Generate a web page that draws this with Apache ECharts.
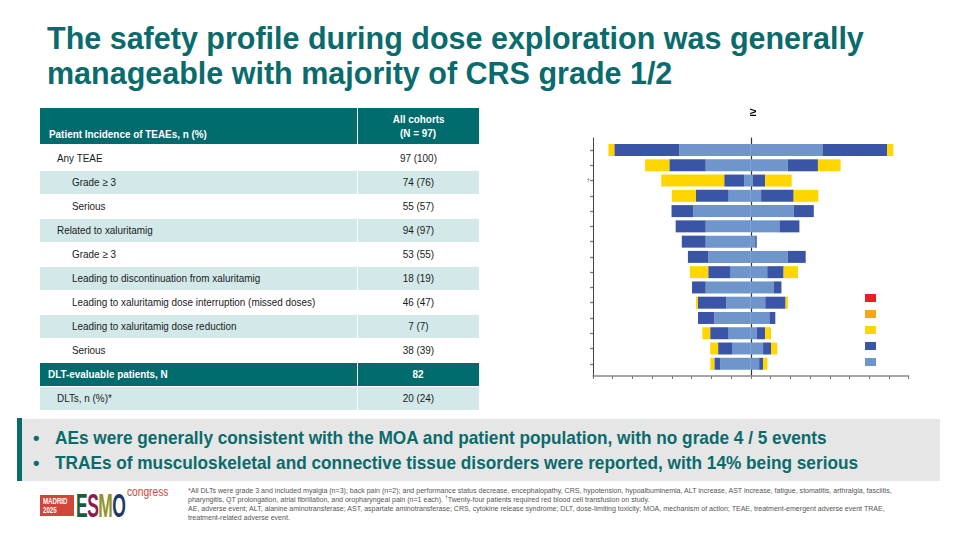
<!DOCTYPE html>
<html>
<head>
<meta charset="utf-8">
<script src="https://cdn.jsdelivr.net/npm/echarts@6/dist/echarts.min.js"></script>
<style>
  html, body { margin:0; padding:0; background:#fff; }
  #page { position:relative; width:960px; height:540px; overflow:hidden; font-family:"Liberation Sans",Arial,sans-serif; }
  .title { position:absolute; left:47px; top:21px; font-size:32px; line-height:34.7px; font-weight:bold; color:#0a6b6c; white-space:nowrap; transform:scaleX(0.953); transform-origin:0 0; }
  .row { position:absolute; left:40px; width:440px; height:23px; font-size:11px; color:#1a1a1a; }
  .row .c1 { position:absolute; left:0; top:0; width:317px; height:23px; line-height:23px; white-space:nowrap; }
  .row .c2 { position:absolute; left:318px; top:0; width:121px; height:23px; line-height:23px; text-align:center; }
  .sx { display:inline-block; transform:scaleX(0.9); transform-origin:0 50%; }
  .sxc { display:inline-block; transform:scaleX(0.9); transform-origin:50% 50%; }
  .light .c1, .light .c2 { background:#d3e9e9; }
  .dark .c1, .dark .c2 { background:#006b6d; color:#fff; font-weight:bold; }
  .hdr { position:absolute; top:108px; height:36px; background:#006b6d; color:#fff; font-weight:bold; font-size:11px; }
  .bullets { position:absolute; left:20px; top:419px; width:920px; height:62px; background:#e6e6e6; }
  .bar { position:absolute; left:17px; top:418px; width:5px; height:63px; background:#0a6b6c; }
  .dot { position:absolute; left:33px; font-size:18.5px; line-height:25px; font-weight:bold; color:#0a6b6c; }
  .bl { position:absolute; left:55px; font-size:18.5px; line-height:25px; font-weight:bold; color:#0a6b6c; white-space:nowrap; transform:scaleX(0.931); transform-origin:0 0; }
  .foot { position:absolute; left:188px; top:486px; font-size:7.05px; line-height:9px; color:#555; white-space:nowrap; }
  #chart { position:absolute; left:0; top:0; width:960px; height:540px; }
</style>
</head>
<body>
<div id="page">
  <div class="title">The safety profile during dose exploration was generally<br>manageable with majority of CRS grade 1/2</div>

  <div class="hdr" style="left:40px;width:317px;">
    <div style="position:absolute;left:9px;top:19px;line-height:14px;white-space:nowrap;"><span class="sx">Patient Incidence of TEAEs, n (%)</span></div>
  </div>
  <div class="hdr" style="left:358px;width:121px;text-align:center;">
    <div style="position:absolute;left:0;width:121px;top:5px;line-height:13.5px;"><span class="sxc">All cohorts</span><br><span class="sxc">(N = 97)</span></div>
  </div>
  <div id="rows"></div>

  <div class="bullets"></div>
  <div class="bar"></div>
  <div class="dot" style="top:425px;">•</div>
  <div class="dot" style="top:450px;">•</div>
  <div class="bl" style="top:425px;">AEs were generally consistent with the MOA and patient population, with no grade 4 / 5 events</div>
  <div class="bl" style="top:450px;">TRAEs of musculoskeletal and connective tissue disorders were reported, with 14% being serious</div>

  <div class="foot">*All DLTs were grade 3 and included myalgia (n=3); back pain (n=2); and performance status decrease, encephalopathy, CRS, hypotension, hypoalbuminemia, ALT increase, AST increase, fatigue, stomatitis, arthralgia, fasciitis,<br>pharyngitis, QT prolongation, atrial fibrillation, and oropharyngeal pain (n=1 each). <sup style="font-size:5px;line-height:0;">†</sup>Twenty-four patients required red blood cell transfusion on study.<br>AE, adverse event; ALT, alanine aminotransferase; AST, aspartate aminotransferase; CRS, cytokine release syndrome; DLT, dose-limiting toxicity; MOA, mechanism of action; TEAE, treatment-emergent adverse event TRAE,<br>treatment-related adverse event.</div>

  <div style="position:absolute;left:40px;top:495px;width:34px;height:21px;background:#d2453a;"></div>
  <div style="position:absolute;left:42.5px;top:497px;color:#fff;font-size:8.5px;line-height:8.5px;font-weight:bold;white-space:nowrap;transform:scaleX(0.72);transform-origin:0 0;">MADRID<br>2025</div>
  <div style="position:absolute;left:76px;top:489px;font-size:33px;line-height:33px;font-weight:bold;white-space:nowrap;letter-spacing:-1px;transform:scaleX(0.53);transform-origin:0 0;">
    <span style="color:#1d5a3c;">E</span><span style="color:#8c1d4e;">S</span><span style="color:#8f942b;">M</span><span style="color:#1f3868;">O</span>
  </div>
  <div style="position:absolute;left:127px;top:486px;font-size:12px;line-height:12px;color:#d2453a;white-space:nowrap;transform:scaleX(0.85);transform-origin:0 0;">congress</div>

  <div id="chart"></div>
</div>
<script>
// ---- table ----
const tableLabels = ['Any TEAE','Grade \u2265 3','Serious','Related to xaluritamig','Grade \u2265 3',
  'Leading to discontinuation from xaluritamig','Leading to xaluritamig dose interruption (missed doses)',
  'Leading to xaluritamig dose reduction','Serious','DLT-evaluable patients, N','DLTs, n (%)*'];
const tableValues = ['97 (100)','74 (76)','55 (57)','94 (97)','53 (55)','18 (19)','46 (47)','7 (7)','38 (39)','82','20 (24)'];
const tableIndent = [1,2,2,1,2,2,2,2,2,0,1];
const tableShade = ['white','light','white','light','white','light','white','light','white','dark','light'];

// ---- butterfly chart ----
const rowLabels = ['','','\u2020','','','','','','','','','','','',''];
const leftGrade1  = [36.3, 22.9, 3.4, 11.3, 29.2, 22.9, 22.9, 21.6, 10.3, 22.9, 12.5, 18.5, 11.3, 9.3, 15.5];
const leftGrade2  = [32.9, 18.4, 10.1, 16.5, 11.0, 15.2, 12.1, 10.3, 11.3, 6.9, 14.3, 8.3, 9.3, 7.3, 3.0];
const leftGrade3  = [3.0, 12.3, 31.9, 12.3, 0, 0, 0, 0, 9.3, 0, 1.0, 0, 4.0, 4.0, 2.0];
const leftGrade4  = [0,0,0,0,0,0,0,0,0,0,0,0,0,0,0];
const leftGrade5  = [0,0,0,0,0,0,0,0,0,0,0,0,0,0,0];
const rightGrade1 = [36.3, 18.7, 1.0, 5.2, 21.8, 14.5, 2.2, 18.7, 8.3, 11.5, 7.3, 9.4, 3.0, 6.2, 4.2];
const rightGrade2 = [32.7, 15.3, 6.2, 16.5, 10.1, 10.1, 0.8, 9.1, 8.3, 4.0, 10.3, 3.0, 4.2, 4.0, 2.0];
const rightGrade3 = [3.2, 11.5, 13.5, 12.5, 0, 0, 0, 0, 7.3, 0, 1.2, 0, 3.0, 3.2, 2.2];
const rightGrade4 = [0,0,0,0,0,0,0,0,0,0,0,0,0,0,0];
const rightGrade5 = [0,0,0,0,0,0,0,0,0,0,0,0,0,0,0];
const gradeNames = ['Grade 1','Grade 2','Grade 3','Grade 4','Grade 5'];
const gradeColors = ['#6f95cd','#3a55a5','#ffd600','#f6a421','#ec1c24'];
const xTicks = { min:-80, max:80, interval:10 };

// build table
const rowsEl = document.getElementById('rows');
tableLabels.forEach((lab, i) => {
  const d = document.createElement('div');
  d.className = 'row ' + tableShade[i];
  d.style.top = (146.7 + 24*i) + 'px';
  const pad = [8, 17, 32][tableIndent[i]];
  d.innerHTML = '<div class="c1" style="padding-left:'+pad+'px;box-sizing:border-box;"><span class="sx">'+lab+'</span></div><div class="c2"><span class="sxc">'+tableValues[i]+'</span></div>';
  rowsEl.appendChild(d);
});

const chart = echarts.init(document.getElementById('chart'), null, {renderer:'canvas'});
const cats = rowLabels.map((_, i) => 'row' + i);
const leftSets = [leftGrade1, leftGrade2, leftGrade3, leftGrade4, leftGrade5];
const rightSets = [rightGrade1, rightGrade2, rightGrade3, rightGrade4, rightGrade5];
const series = [];
leftSets.forEach((arr, g) => series.push({
  name: gradeNames[g], type:'bar', stack:'all', xAxisIndex:0, yAxisIndex:0, barWidth:12,
  itemStyle:{color:gradeColors[g]}, data: arr.map(v => -v), silent:true
}));
rightSets.forEach((arr, g) => series.push({
  name: gradeNames[g], type:'bar', stack:'all', xAxisIndex:0, yAxisIndex:0, barWidth:12,
  itemStyle:{color:gradeColors[g]}, data: arr.slice(), silent:true
}));

chart.setOption({
  animation:false,
  title:{ text:'\u2265', left:745, top:102, textStyle:{fontSize:12, fontWeight:'bold', color:'#000', fontFamily:'Liberation Sans'} },
  legend:{ orient:'vertical', left:860, top:289, itemWidth:11, itemHeight:8, itemGap:8, selectedMode:false,
    icon:'rect', data:['Grade 5','Grade 4','Grade 3','Grade 2','Grade 1'], formatter:() => '', textStyle:{fontSize:1} },
  grid:[
    { left:593, right:51.3, top:142.4, height:229 },
    { left:593, right:51.3, top:138, height:238 }
  ],
  xAxis:[
    { type:'value', gridIndex:0, min:xTicks.min, max:xTicks.max, interval:xTicks.interval,
      axisLine:{show:false}, axisTick:{show:false}, axisLabel:{show:false}, splitLine:{show:false} },
    { type:'value', gridIndex:1, min:xTicks.min, max:xTicks.max, interval:xTicks.interval,
      axisLine:{show:true, onZero:false, lineStyle:{color:'#8a8a8a', width:1.6}},
      axisTick:{show:true, length:3, lineStyle:{color:'#7a7a7a', width:1}},
      axisLabel:{show:false}, splitLine:{show:false} }
  ],
  yAxis:[
    { type:'category', gridIndex:0, data:cats, inverse:true,
      axisLine:{show:false, onZero:false},
      axisTick:{show:true, alignWithLabel:true, length:3, lineStyle:{color:'#7a7a7a', width:1.3}},
      axisLabel:{show:true, margin:3, fontSize:6, color:'#666', formatter:(v, i) => rowLabels[i]} },
    { type:'value', gridIndex:1, min:0, max:1, position:'left',
      axisLine:{show:true, onZero:false, lineStyle:{color:'#444', width:1}},
      axisTick:{show:false}, axisLabel:{show:false}, splitLine:{show:false} },
    { type:'value', gridIndex:1, min:0, max:1, position:'right',
      axisLine:{show:true, onZero:true, lineStyle:{color:'#333', width:1.2}},
      axisTick:{show:false}, axisLabel:{show:false}, splitLine:{show:false} }
  ],
  series: series
});
</script>
</body>
</html>
